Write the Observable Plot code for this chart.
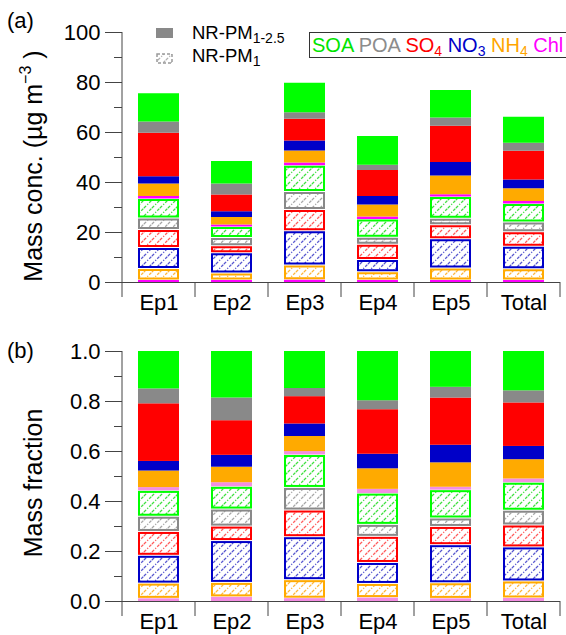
<!DOCTYPE html>
<html>
<head>
<meta charset="utf-8">
<script src="https://cdn.jsdelivr.net/npm/d3@7"></script>
<script src="https://cdn.jsdelivr.net/npm/@observablehq/plot@0.6"></script>
<style>
  html, body { margin: 0; padding: 0; background: #fff; }
  #wrap { position: relative; width: 566px; height: 635px; overflow: hidden;
          font-family: "Liberation Sans", Arial, Helvetica, sans-serif; }
  #wrap > svg, #wrap > div { position: absolute; }
  .lg sub { font-size: 14px; vertical-align: -4px; line-height: 0; }
</style>
</head>
<body>
<svg width="0" height="0" style="position:absolute"><defs id="defs"></defs></svg>
<div id="wrap"></div>
<script>
// ---------------- data (µg m^-3) ----------------
const categories = ["Ep1", "Ep2", "Ep3", "Ep4", "Ep5", "Total"];
const speciesOrder = ["Chl", "NH4", "NO3", "SO4", "POA", "SOA"];
const sizes = ["PM1", "PM1-2.5"];

// NR-PM1 (hatched)
const chlPM1 = [0.8, 0.8, 0.9, 0.8, 0.8, 0.8];
const nh4PM1 = [4.6, 2.8, 5.9, 3.3, 4.8, 4.5];
const no3PM1 = [8.4, 8.1, 13.7, 4.9, 11.7, 9.0];
const so4PM1 = [7.2, 2.8, 8.5, 6.1, 5.6, 5.8];
const poaPM1 = [4.6, 3.3, 7.2, 2.8, 2.6, 3.9];
const soaPM1 = [7.8, 4.4, 10.5, 7.3, 8.7, 7.4];

// NR-PM1-2.5 (solid)
const chlPM125 = [1.0, 0.8, 1.1, 1.0, 0.9, 1.0];
const nh4PM125 = [5.0, 3.0, 4.8, 4.8, 7.5, 5.1];
const no3PM125 = [2.9, 2.3, 4.0, 3.4, 5.4, 3.5];
const so4PM125 = [17.4, 6.7, 8.7, 10.4, 14.5, 11.5];
const poaPM125 = [4.5, 4.4, 2.6, 2.1, 3.3, 3.2];
const soaPM125 = [11.3, 9.0, 11.8, 11.5, 11.0, 10.4];

const yTicksA = [0, 20, 40, 60, 80, 100];
const yMinorA = [10, 30, 50, 70, 90];
const yTicksB = [0, 0.2, 0.4, 0.6, 0.8, 1.0];
const yMinorB = [0.1, 0.3, 0.5, 0.7, 0.9];

// ---------------- styles ----------------
const FONT = '"Liberation Sans", Arial, Helvetica, sans-serif';
const AX = "#444";
const solid = {SOA: "#00ff00", POA: "#898989", SO4: "#ff0000", NO3: "#0000c8", NH4: "#ffaa00", Chl: "#ff00ff"};
const hatchInk = {SOA: "#3ee03e", POA: "#a6a6a6", SO4: "#ff5a5a", NO3: "#5555cf", NH4: "#ffb638", LG: "#b0b0b0"};

const series = {
  "PM1": {Chl: chlPM1, NH4: nh4PM1, NO3: no3PM1, SO4: so4PM1, POA: poaPM1, SOA: soaPM1},
  "PM1-2.5": {Chl: chlPM125, NH4: nh4PM125, NO3: no3PM125, SO4: so4PM125, POA: poaPM125, SOA: soaPM125}
};
const rows = categories.flatMap((cat, i) =>
  sizes.flatMap(size => speciesOrder.map(sp => ({cat, size, sp, key: size + " " + sp, value: series[size][sp][i]}))));

// hatch patterns
const defs = d3.select("#defs");
for (const [k, c] of Object.entries(hatchInk)) {
  const p = defs.append("pattern").attr("id", "hatch-" + k).attr("patternUnits", "userSpaceOnUse")
    .attr("width", 8).attr("height", 8);
  p.append("rect").attr("width", 8).attr("height", 8).attr("fill", "#fff");
  for (const [x1, y1, x2, y2] of [[0, 8, 8, 0], [-2, 2, 2, -2], [6, 10, 10, 6]]) {
    p.append("line").attr("x1", x1).attr("y1", y1).attr("x2", x2).attr("y2", y2)
      .attr("stroke", c).attr("stroke-width", 1.3).attr("stroke-dasharray", "3 1.6 1.2 1.6");
  }
}

const wrap = d3.select("#wrap");

function panel({offset, yMax, ticks, minor, fmt, height, mt, mb, chlColor}) {
  const solidFill = d => (d.size === "PM1-2.5" || d.sp === "Chl") ? (d.sp === "Chl" ? chlColor : solid[d.sp]) : "none";
  const hatchFill = d => (d.size === "PM1" && d.sp !== "Chl") ? `url(#hatch-${d.sp})` : "none";
  const hatchStroke = d => (d.size === "PM1" && d.sp !== "Chl") ? solid[d.sp] : "none";
  const chart = Plot.plot({
    width: 566, height,
    marginLeft: 122, marginRight: 6, marginTop: mt, marginBottom: mb,
    style: {fontFamily: FONT, background: "transparent", color: "#000", overflow: "visible"},
    x: {domain: categories, paddingInner: 0.438, paddingOuter: 0.219, label: null},
    y: {domain: [0, yMax], label: null},
    color: {type: "identity"},
    marks: [
      Plot.ruleY([0], {stroke: AX}),
      Plot.barY(rows, Plot.stackY({x: "cat", y: "value", z: "key", offset, fill: solidFill})),
      Plot.barY(rows, Plot.stackY({x: "cat", y: "value", z: "key", offset,
        fill: hatchFill, stroke: hatchStroke, strokeWidth: 2,
        insetTop: 1.5, insetBottom: 1.5, insetLeft: 1, insetRight: 1})),
      Plot.axisY({ticks, tickSize: 17, tickPadding: 5, fontSize: 22, stroke: AX, label: null,
        tickFormat: fmt}),
      Plot.axisY({ticks: minor, tickSize: 8, stroke: AX, label: null, tickFormat: () => ""}),
      Plot.axisX({tickSize: 0, tickPadding: 12, fontSize: 22, label: null})
    ]
  });
  // category-boundary ticks and left axis line, from the library's own scales
  const sx = chart.scale("x"), sy = chart.scale("y");
  const n = sx.domain.length;
  const step = sx.step ?? (sx.range[1] - sx.range[0]) / n;
  const bw = sx.bandwidth ?? step * (1 - sx.paddingInner);
  const half = (step - bw) / 2;
  const xs = sx.domain.map(d => sx.apply(d) - half);
  xs.push(sx.apply(sx.domain[n - 1]) + bw + half);
  const y0 = sy.apply(0), yTop = sy.apply(yMax);
  const g = d3.select(chart).append("g").attr("stroke", AX).attr("stroke-width", 1);
  xs.forEach(x => g.append("line").attr("x1", x).attr("x2", x).attr("y1", y0).attr("y2", y0 + 15));
  g.append("line").attr("x1", xs[0]).attr("x2", xs[0]).attr("y1", yTop).attr("y2", y0);
  return chart;
}

// ---------- panel (a) ----------
const A = panel({offset: null, yMax: 100, ticks: yTicksA, minor: yMinorA, fmt: d3.format("d"),
  height: 320, mt: 32, mb: 38, chlColor: "#ff00ff"});
wrap.node().appendChild(A);
d3.select(A).style("left", "0px").style("top", "0px");
const sa = d3.select(A);
sa.append("text").attr("x", 7).attr("y", 28).attr("font-size", 22).attr("fill", "#000")
  .attr("text-anchor", "start").text("(a)");
const ta = sa.append("text").attr("transform", "translate(42,166) rotate(-90)")
  .attr("text-anchor", "middle").attr("font-size", 25).attr("fill", "#000");
ta.append("tspan").text("Mass conc. (µg m");
ta.append("tspan").attr("dy", -11).attr("font-size", 16).text("−3");
ta.append("tspan").attr("dy", 11).text(" )");

// ---------- panel (b) ----------
const B = panel({offset: "normalize", yMax: 1, ticks: yTicksB, minor: yMinorB, fmt: d3.format(".1f"),
  height: 315, mt: 31, mb: 34, chlColor: "#f38ee2"});
wrap.node().appendChild(B);
d3.select(B).style("left", "0px").style("top", "320px");
const sb = d3.select(B);
sb.append("text").attr("x", 7).attr("y", 38).attr("font-size", 22).attr("fill", "#000")
  .attr("text-anchor", "start").text("(b)");
sb.append("text").attr("transform", "translate(42,163) rotate(-90)")
  .attr("text-anchor", "middle").attr("font-size", 25).attr("fill", "#000").text("Mass fraction");

// ---------- legends ----------
const lg = wrap.append("svg").attr("width", 160).attr("height", 50)
  .style("left", "150px").style("top", "20px").style("font-family", FONT);
lg.append("rect").attr("x", 6).attr("y", 8).attr("width", 17).attr("height", 10).attr("fill", "#898989");
const t1 = lg.append("text").attr("x", 42).attr("y", 19).attr("font-size", 18.5);
t1.append("tspan").text("NR-PM");
t1.append("tspan").attr("dy", 4).attr("font-size", 14).text("1-2.5");
lg.append("rect").attr("x", 7).attr("y", 34).attr("width", 15).attr("height", 9)
  .attr("fill", "url(#hatch-LG)").attr("stroke", "#9a9a9a").attr("stroke-width", 1.5)
  .attr("stroke-dasharray", "3 2");
const t2 = lg.append("text").attr("x", 42).attr("y", 42).attr("font-size", 18.5);
t2.append("tspan").text("NR-PM");
t2.append("tspan").attr("dy", 4).attr("font-size", 14).text("1");

const legendItems = [
  {sp: "SOA", html: "SOA", color: "#00e400"},
  {sp: "POA", html: "POA", color: "#8c8c8c"},
  {sp: "SO4", html: "SO<sub>4</sub>", color: "#ff0000"},
  {sp: "NO3", html: "NO<sub>3</sub>", color: "#0000c8"},
  {sp: "NH4", html: "NH<sub>4</sub>", color: "#ffa500"},
  {sp: "Chl", html: "Chl", color: "#ff00ff"}
];
const box = wrap.append("div").attr("class", "lg")
  .style("left", "309px").style("top", "32px").style("height", "24px")
  .style("border", "1px solid #333").style("padding", "0 30px 0 2px")
  .style("white-space", "nowrap").style("font-size", "20px").style("line-height", "24px")
  .style("background", "#fff");
box.html(legendItems.map(d => `<span style="color:${d.color}">${d.html}</span>`).join(" "));
</script>
</body>
</html>
